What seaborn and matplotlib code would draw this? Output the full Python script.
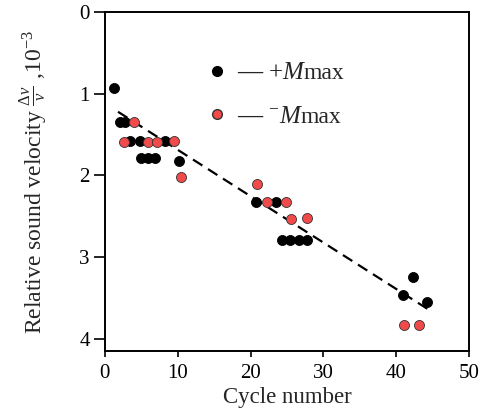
import matplotlib
matplotlib.use("Agg")
import matplotlib.pyplot as plt
import seaborn as sns
import pandas as pd
from matplotlib.lines import Line2D

# ---- data ----
plus_x = [1.2, 2.1, 2.8, 3.5, 4.8, 8.2, 5.0, 5.95, 6.9, 10.2,
          20.7, 23.5, 24.3, 25.4, 26.6, 27.8, 41.0, 42.3, 44.2]
plus_y = [0.93, 1.35, 1.35, 1.58, 1.58, 1.58, 1.78, 1.78, 1.78, 1.82,
          2.33, 2.33, 2.79, 2.79, 2.79, 2.79, 3.46, 3.24, 3.55]
minus_x = [4.0, 2.6, 5.95, 7.2, 9.5, 10.5, 20.9, 22.3, 24.9, 25.5, 27.7, 41.1, 43.2]
minus_y = [1.35, 1.59, 1.59, 1.59, 1.58, 2.02, 2.10, 2.33, 2.33, 2.53, 2.52, 3.83, 3.83]
trend_x = [1.8, 44.6]
trend_y = [1.22, 3.65]
x_ticks = [0, 10, 20, 30, 40, 50]
y_ticks = [0, 1, 2, 3, 4]
series_names = ["+Mmax", "-Mmax"]

df = pd.DataFrame({
    "cycle": plus_x + minus_x,
    "dv": plus_y + minus_y,
    "series": [series_names[0]] * len(plus_x) + [series_names[1]] * len(minus_x),
})

sns.set_theme(style="ticks")
plt.rcParams["font.family"] = ["Liberation Serif", "DejaVu Serif"]
plt.rcParams["mathtext.fontset"] = "custom"
plt.rcParams["mathtext.rm"] = "Liberation Serif"
plt.rcParams["mathtext.it"] = "Liberation Serif:italic"
plt.rcParams["mathtext.bf"] = "Liberation Serif:bold"

fig = plt.figure(figsize=(4.88, 4.18), dpi=100)
ax = fig.add_axes([0.215, 0.160, 0.746, 0.811])

red = "#F04A4A"
sns.scatterplot(data=df[df.series == series_names[0]], x="cycle", y="dv",
                color="black", s=52, edgecolor="black", linewidth=0.6,
                ax=ax, legend=False, zorder=3)
sns.scatterplot(data=df[df.series == series_names[1]], x="cycle", y="dv",
                color=red, s=52, edgecolor="#333333", linewidth=0.6,
                ax=ax, legend=False, zorder=4)
ax.plot(trend_x, trend_y, color="black", lw=1.6, dashes=(5, 3), zorder=2)

ax.set_xlim(0, 50)
ax.set_ylim(4.15, 0)
ax.set_xticks(x_ticks)
ax.set_yticks(y_ticks)
ax.tick_params(direction="out", width=1.2, labelsize=15, colors="black",
               top=False, right=False)
ax.tick_params(axis="x", length=4, pad=5)
ax.tick_params(axis="y", length=8, pad=3)
for sp in ax.spines.values():
    sp.set_linewidth(1.4)
    sp.set_color("black")
    sp.set_visible(True)

ax.set_xlabel("Cycle number", fontsize=16.5, labelpad=3)
ax.set_ylabel(r"Relative sound velocity $\frac{\Delta\nu}{\nu}$ ,$10^{-3}$", fontsize=17, labelpad=22)

handles = [
    Line2D([], [], marker="o", ls="none", color="black", markersize=7),
    Line2D([], [], marker="o", ls="none", markerfacecolor=red,
           markeredgecolor="#333333", markersize=7),
]
labels = [r"$\mathbf{—}$ $+M$", r"$\mathbf{—}$ $^{-}M$"]
leg = ax.legend(handles, labels, loc="upper left", bbox_to_anchor=(0.255, 0.883),
                frameon=False, fontsize=18, handlelength=0.7, handletextpad=0.45,
                labelspacing=0.85, borderaxespad=0)

fig.canvas.draw()
inv = fig.transFigure.inverted()
for t in leg.get_texts():
    bb = t.get_window_extent()
    fx, fy = inv.transform((bb.x1 - 2, bb.y0 + 0.5))
    fig.text(fx, fy, "max", ha="left", va="bottom", fontsize=17)

fig.savefig("out.png", dpi=100)
